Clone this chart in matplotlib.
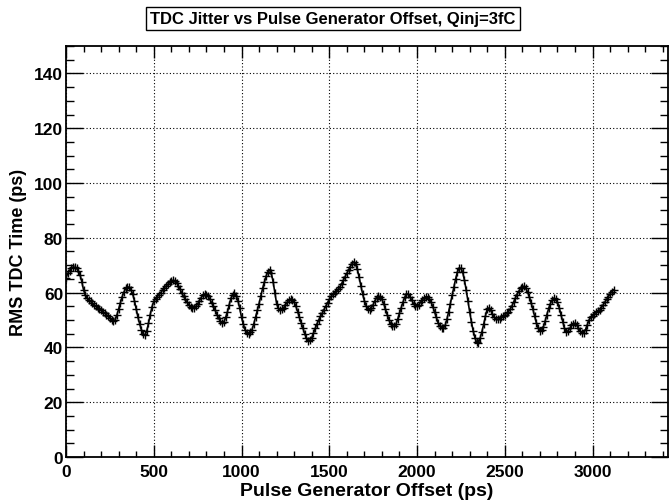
import matplotlib
matplotlib.use("Agg")
import matplotlib.pyplot as plt
from matplotlib.ticker import MultipleLocator

plt.rcParams['font.family'] = ['Liberation Sans', 'DejaVu Sans']

title = "TDC Jitter vs Pulse Generator Offset, Qinj=3fC"
xlabel = "Pulse Generator Offset (ps)"
ylabel = "RMS TDC Time (ps)"

offset_ps = list(range(0, 3121, 10))
rms_ps = [
    65.5, 67.0, 68.0, 69.0, 69.3, 69.2, 68.8, 68.0, 66.5, 64.0,   # 0-90
    61.0, 59.2, 58.0, 57.3, 56.8, 56.1, 55.5, 55.0, 54.5, 54.0,   # 100-190
    53.5, 53.0, 52.5, 52.0, 51.3, 50.6, 50.0, 49.5, 50.0, 51.8,   # 200-290
    54.0, 56.3, 58.5, 60.2, 61.5, 62.0, 62.0, 61.0, 59.5, 57.0,   # 300-390
    54.0, 51.0, 48.5, 46.4, 44.8, 44.5, 46.0, 48.8, 52.0, 54.8,   # 400-490
    56.8, 57.8, 58.5, 59.3, 60.0, 60.9, 61.8, 62.4, 63.0, 63.7,   # 500-590
    64.2, 64.5, 64.3, 63.6, 62.5, 61.2, 59.8, 58.6, 57.5, 56.4,   # 600-690
    55.5, 54.9, 54.5, 54.4, 55.0, 55.9, 57.0, 58.2, 59.0, 59.5,   # 700-790
    59.3, 58.6, 57.5, 56.3, 55.0, 53.5, 52.0, 50.6, 49.5, 48.8,   # 800-890
    49.3, 51.0, 53.0, 55.6, 58.0, 59.3, 59.8, 58.9, 57.0, 54.2,   # 900-990
    51.0, 48.5, 46.5, 45.3, 45.0, 45.5, 46.5, 48.6, 51.0, 53.5,   # 1000-1090
    56.0, 58.8, 61.5, 63.8, 66.0, 67.6, 68.4, 67.0, 64.0, 60.0,   # 1100-1190
    56.0, 54.2, 53.7, 53.9, 54.5, 55.5, 56.5, 57.3, 57.7, 57.4,   # 1200-1290
    56.5, 55.0, 53.0, 51.0, 49.0, 47.0, 45.0, 43.4, 42.5, 42.6,   # 1300-1390
    43.5, 45.2, 47.0, 48.6, 50.0, 51.3, 52.5, 53.8, 55.0, 56.3,   # 1400-1490
    57.5, 58.6, 59.5, 60.0, 60.5, 61.2, 62.0, 63.2, 64.5, 65.8,   # 1500-1590
    67.0, 68.3, 69.5, 70.6, 71.2, 70.3, 68.5, 65.6, 62.5, 59.5,   # 1600-1690
    57.0, 55.2, 54.0, 53.8, 54.5, 55.6, 57.0, 58.2, 58.8, 58.4,   # 1700-1790
    57.5, 56.0, 54.0, 52.0, 50.0, 48.6, 47.8, 47.7, 48.5, 50.3,   # 1800-1890
    52.5, 54.5, 56.5, 58.3, 59.5, 59.4, 58.5, 57.2, 56.0, 55.2,   # 1900-1990
    55.0, 55.6, 56.5, 57.3, 58.0, 58.5, 58.5, 57.7, 56.5, 54.9,   # 2000-2090
    53.0, 51.0, 49.0, 47.7, 47.0, 47.1, 48.0, 50.2, 53.0, 56.0,   # 2100-2190
    59.0, 62.0, 65.0, 67.5, 69.0, 68.8, 67.5, 64.6, 61.0, 57.0,   # 2200-2290
    53.0, 49.3, 46.0, 43.5, 41.8, 41.6, 43.5, 45.8, 48.5, 51.5,   # 2300-2390
    54.0, 54.4, 53.5, 52.2, 51.0, 50.3, 50.2, 50.5, 51.0, 51.4,   # 2400-2490
    51.8, 52.4, 53.0, 53.9, 55.0, 56.5, 58.0, 59.3, 60.5, 61.5,   # 2500-2590
    62.2, 62.3, 61.5, 60.2, 58.5, 56.3, 54.0, 51.4, 49.0, 47.1,   # 2600-2690
    46.0, 46.2, 47.5, 49.6, 52.0, 54.2, 56.0, 57.3, 58.0, 57.6,   # 2700-2790
    56.5, 54.5, 52.0, 49.4, 47.0, 45.8, 46.0, 46.9, 48.0, 48.7,   # 2800-2890
    48.8, 48.1, 47.0, 45.9, 45.2, 45.3, 46.5, 48.3, 50.0, 51.0,   # 2900-2990
    51.5, 52.2, 52.8, 53.2, 53.5, 54.4, 55.5, 56.5, 57.5, 58.5,   # 3000-3090
    59.5, 60.3, 61.0,                                             # 3100-3120
]

fig = plt.figure(figsize=(6.70, 5.02), dpi=100)
ax = fig.add_axes([66/670, 44/502, 602/670, 411/502])

ax.plot(offset_ps, rms_ps, color='black', linewidth=1.2, marker='+',
        markersize=6, markeredgewidth=1.0)

ax.set_xlim(0, 3430)
ax.set_ylim(0, 150)
ax.xaxis.set_major_locator(MultipleLocator(500))
ax.xaxis.set_minor_locator(MultipleLocator(100))
ax.yaxis.set_major_locator(MultipleLocator(20))
ax.yaxis.set_minor_locator(MultipleLocator(5))

ax.grid(True, which='major', linestyle=(0, (1, 2)), color='black', linewidth=0.8)

ax.tick_params(axis='x', which='major', direction='in', length=8.5, width=1.0,
               top=True, bottom=True, labelsize=12.5, pad=5)
ax.tick_params(axis='x', which='minor', direction='in', length=4.3, width=1.0,
               top=True, bottom=True)
ax.tick_params(axis='y', which='major', direction='in', length=12, width=1.0,
               left=True, right=True, labelsize=12.5, pad=2)
ax.tick_params(axis='y', which='minor', direction='in', length=6, width=1.0,
               left=True, right=True)
for s in ax.spines.values():
    s.set_linewidth(1.3)

ax.set_xlabel(xlabel, fontsize=14, fontweight='bold', labelpad=2)
ax.set_ylabel(ylabel, fontsize=13, fontweight='bold', labelpad=5)

for lbl in ax.get_xticklabels() + ax.get_yticklabels():
    lbl.set_fontweight('bold')

fig.text(333/670, 1 - 19.5/502, title, ha='center', va='center',
         fontsize=12, fontweight='bold',
         bbox=dict(boxstyle='square,pad=0.25', facecolor='white',
                   edgecolor='black', linewidth=1.0))

fig.savefig("out.png", dpi=100)
